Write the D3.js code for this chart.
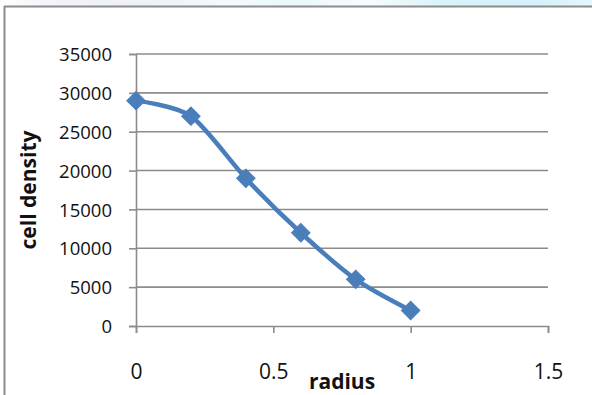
<!DOCTYPE html>
<html>
<head>
<meta charset="utf-8">
<script src="https://cdn.jsdelivr.net/npm/d3@7"></script>
<style>
  html, body { margin: 0; padding: 0; background: #fff; }
  svg { display: block; }
  text { font-family: "Open Sans", "Liberation Sans", sans-serif; fill: #111; }
</style>
</head>
<body>
<svg id="chart" width="592" height="395"></svg>
<script>
// radius vs. cell density
const radius = [0, 0.2, 0.4, 0.6, 0.8, 1];
const cellDensity = [29000, 27000, 19000, 12000, 6000, 2000];
const xTicks = [0, 0.5, 1, 1.5];
const yTicks = [0, 5000, 10000, 15000, 20000, 25000, 30000, 35000];

const svg = d3.select("#chart");
const W = 592, H = 395;

// soft tinted strip above the chart frame
const defs = svg.append("defs");
const grad = defs.append("linearGradient").attr("id", "topStrip").attr("x1", 0).attr("x2", 1);
[[0, "#ffffff"], [0.1, "#f1f2fb"], [0.25, "#eef0fa"], [0.38, "#f2fbfd"], [0.5, "#ebf8fc"],
 [0.62, "#f7fcfe"], [0.75, "#d9f3fa"], [0.9, "#d2f1fa"], [1, "#e6f7fc"]]
  .forEach(([o, c]) => grad.append("stop").attr("offset", o).attr("stop-color", c));
svg.append("rect").attr("x", 0).attr("y", 0).attr("width", W).attr("height", 6)
  .attr("fill", "url(#topStrip)");

// chart frame (left and top edges)
svg.append("line").attr("x1", 4.5).attr("x2", 4.5).attr("y1", 6).attr("y2", H)
  .attr("stroke", "#8c8c8c").attr("stroke-width", 2);
svg.append("line").attr("x1", 4).attr("x2", W).attr("y1", 6.5).attr("y2", 6.5)
  .attr("stroke", "#8c8c8c").attr("stroke-width", 2);

const x = d3.scaleLinear().domain([0, 1.5]).range([136, 548]);
const y = d3.scaleLinear().domain([0, 35000]).range([326, 54]);

const gridColor = "#8c8c8c";

// horizontal gridlines
svg.append("g").selectAll("line").data(yTicks.filter(d => d > 0)).join("line")
  .attr("x1", x(0)).attr("x2", x(1.5))
  .attr("y1", d => y(d)).attr("y2", d => y(d))
  .attr("stroke", gridColor).attr("stroke-width", 1.6);

// y axis
const yAxis = svg.append("g").attr("transform", `translate(${x(0)},0)`)
  .call(d3.axisLeft(y).tickValues(yTicks).tickSize(7).tickPadding(17).tickFormat(d3.format("d")));
yAxis.select(".domain").attr("stroke", gridColor).attr("stroke-width", 1.6);
yAxis.selectAll(".tick line").attr("stroke", gridColor).attr("stroke-width", 1.6);
yAxis.selectAll(".tick text").attr("font-size", 18.5).attr("fill", "#111")
  .attr("font-family", "'Open Sans', sans-serif").attr("dy", "0.36em");

// x axis
const xAxis = svg.append("g").attr("transform", `translate(0,${y(0)})`)
  .call(d3.axisBottom(x).tickValues(xTicks).tickSize(7).tickPadding(31).tickFormat(d => String(d)));
xAxis.select(".domain").attr("stroke", gridColor).attr("stroke-width", 1.6);
xAxis.selectAll(".tick line").attr("stroke", gridColor).attr("stroke-width", 1.6);
xAxis.selectAll(".tick text").attr("font-size", 21).attr("fill", "#111")
  .attr("font-family", "'Open Sans', sans-serif");

// axis titles
svg.append("text").attr("x", 342).attr("y", 389).attr("text-anchor", "middle")
  .attr("font-size", 21).attr("font-weight", "bold").text("radius");
svg.append("text").attr("transform", "translate(36,190) rotate(-90)")
  .attr("text-anchor", "middle").attr("font-size", 21).attr("font-weight", "bold")
  .text("cell density");

// smoothed series line
const pts = radius.map((r, i) => [r, cellDensity[i]]);
const line = d3.line().x(d => x(d[0])).y(d => y(d[1])).curve(d3.curveCardinal.tension(0.2));
svg.append("path").datum(pts).attr("d", line)
  .attr("fill", "none").attr("stroke", "#4a7ebb").attr("stroke-width", 4.5)
  .attr("stroke-linejoin", "round").attr("stroke-linecap", "round");

// diamond markers (squares turned 45°)
const marker = d3.symbol().type(d3.symbolSquare).size(170);
svg.append("g").selectAll("path").data(pts).join("path")
  .attr("d", marker)
  .attr("transform", d => `translate(${x(d[0])},${y(d[1])}) rotate(45)`)
  .attr("fill", "#4a7ebb").attr("stroke", "#4a7ebb").attr("stroke-width", 1);
</script>
</body>
</html>
